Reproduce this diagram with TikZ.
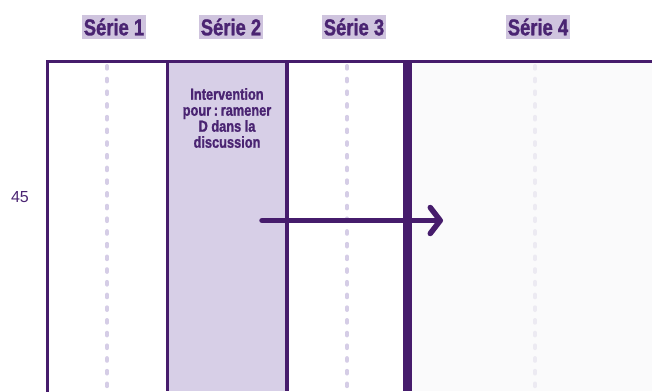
\documentclass[tikz,border=0pt]{standalone}
\usepackage{fontspec}
\setmainfont{Liberation Sans}
\newfontfamily\narrowfont{Liberation Sans}[FakeStretch=0.8,FakeBold=1.2]
\usetikzlibrary{arrows.meta,positioning}
\definecolor{plum}{HTML}{461C6C}
\definecolor{ink}{HTML}{4A2472}
\definecolor{lilac}{HTML}{D7CFE7}
\definecolor{tagfill}{HTML}{CFC4DE}
\definecolor{dashlilac}{HTML}{D5CDE6}
\definecolor{ghost}{HTML}{FAFAFB}
\definecolor{ghostdash}{HTML}{ECEAF2}

\begin{document}
\begin{tikzpicture}[x=1pt,y=-1pt,
  serie/.style={fill=tagfill,text=ink,inner xsep=2pt,inner ysep=3.5pt,
    font=\narrowfont\bfseries\fontsize{23}{25}\selectfont},
  border/.style={draw=plum,line width=3.5pt},
  guide/.style={draw=dashlilac,line width=4pt,line cap=round,dash pattern=on 2.7pt off 10pt},
  note/.style={text=ink,align=center,inner sep=0pt,
    font=\narrowfont\bfseries\fontsize{16}{16}\selectfont}]
  \useasboundingbox (0,0) rectangle (652,391);
  % column backgrounds
  \fill[lilac] (167,62) rectangle (287,391);
  \fill[ghost] (407,62) rectangle (652,391);
  % dashed guides
  \draw[guide] (107,66) -- (107,395);
  \draw[guide] (347,66) -- (347,395);
  \draw[guide,draw=ghostdash] (535,66) -- (535,395);
  % frame
  \draw[border] (47.5,395) -- (47.5,61.7) -- (652,61.7);
  \draw[border] (167.5,62) -- (167.5,391);
  \draw[border] (287,62) -- (287,391);
  \draw[plum,line width=9pt] (407,62) -- (407,391);
  % headers
  \node[serie] (s1) at (114,27) {Série 1};
  \node[serie] (s2) at (231,27) {Série 2};
  \node[serie] (s3) at (354,27) {Série 3};
  \node[serie] (s4) at (538,27) {Série 4};
  % row label
  \node[text=ink,font=\fontsize{16}{18}\selectfont] (row) at (20,197) {45};
  % intervention
  \node[note] (act) at (227,118) {Intervention\\pour\,:\,ramener\\D dans la\\discussion};
  \coordinate (start) at (262,220.5);
  \coordinate (stop) at (443,220.5);
  \draw[plum,line width=5.5pt,line cap=round,
    -{Straight Barb[length=10pt,width=26pt,round]}] (start) -- (stop);
\end{tikzpicture}
\end{document}
